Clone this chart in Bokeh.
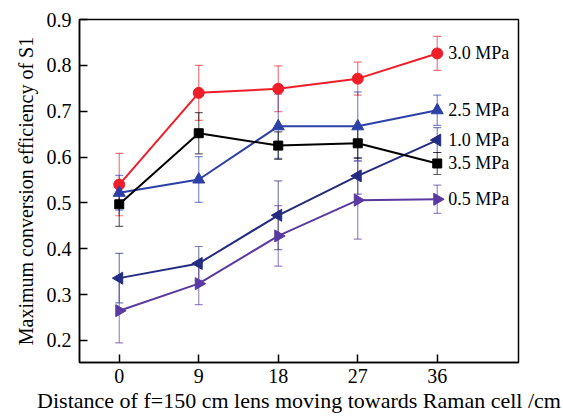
from bokeh.plotting import figure
from bokeh.models import ColumnDataSource, FixedTicker
from bokeh.embed import file_html
from bokeh.resources import INLINE
from bokeh.core.properties import value

distance = [0, 9, 18, 27, 36]

labels = ["3.0 MPa", "2.5 MPa", "1.0 MPa", "3.5 MPa", "0.5 MPa"]
eff_30 = [0.540, 0.740, 0.749, 0.771, 0.826]
err_30 = [0.068, 0.060, 0.050, 0.036, 0.037]
eff_25 = [0.522, 0.551, 0.667, 0.667, 0.702]
err_25 = [0.038, 0.050, 0.070, 0.075, 0.033]
eff_10 = [0.336, 0.368, 0.473, 0.559, 0.637]
err_10 = [0.054, 0.037, 0.075, 0.040, 0.027]
eff_35 = [0.497, 0.652, 0.625, 0.630, 0.586]
err_35 = [0.048, 0.045, 0.030, 0.033, 0.024]
eff_05 = [0.265, 0.324, 0.428, 0.506, 0.508]
err_05 = [0.070, 0.046, 0.066, 0.085, 0.031]

y_ticks = [0.2, 0.3, 0.4, 0.5, 0.6, 0.7, 0.8, 0.9]

series = [
    (labels[0], eff_30, err_30, "#f01e28", "circle", 11),
    (labels[1], eff_25, err_25, "#2c40a8", "triangle", 12),
    (labels[2], eff_10, err_10, "#232c80", "triangle", 12),
    (labels[3], eff_35, err_35, "#000000", "square", 9),
    (labels[4], eff_05, err_05, "#5a3aa0", "triangle", 12),
]
angles = [0, 0, 1.5708, 0, -1.5708]

FONT = "Liberation Serif"

p = figure(width=563, height=417, output_backend="svg", toolbar_location=None,
           x_range=(-4.5, 45.2), y_range=(0.152, 0.9),
           min_border_left=79, min_border_right=45, min_border_top=19, min_border_bottom=55)
p.grid.visible = False
p.outline_line_color = "black"
p.outline_line_width = 1.5
p.background_fill_color = "white"
p.border_fill_color = "white"

for i, (name, ys, es, col, mk, sz) in enumerate(series):
    src = ColumnDataSource(dict(x=distance,
                                lo=[a - b for a, b in zip(ys, es)],
                                hi=[a + b for a, b in zip(ys, es)]))
    p.segment(x0="x", y0="lo", x1="x", y1="hi", source=src,
              line_color=col, line_alpha=0.6, line_width=1.2)
    p.scatter("x", "lo", source=src, marker="dash", size=8,
              line_color=col, line_alpha=0.6, line_width=1.2)
    p.scatter("x", "hi", source=src, marker="dash", size=8,
              line_color=col, line_alpha=0.6, line_width=1.2)
for i, (name, ys, es, col, mk, sz) in enumerate(series):
    src = ColumnDataSource(dict(x=distance, y=ys))
    p.line("x", "y", source=src, line_color=col, line_width=2)
    p.scatter("x", "y", source=src, marker=mk, size=sz, color=col, angle=angles[i])
    p.text(x=[distance[-1]], y=[ys[-1]], text=[name], x_offset=11,
           text_baseline="middle", text_align="left",
           text_font=value(FONT), text_font_size="18px", text_color="black")

xa = p.xaxis[0]
ya = p.yaxis[0]
xa.ticker = FixedTicker(ticks=distance)
ya.ticker = FixedTicker(ticks=y_ticks)

xa.major_tick_in = 8
xa.major_tick_out = 0
xa.minor_tick_in = 0
xa.minor_tick_out = 0
xa.axis_line_width = 1.5
xa.major_tick_line_width = 1.5
xa.major_label_text_font = FONT
xa.major_label_text_font_size = "20px"
xa.major_label_text_color = "black"
xa.axis_label = "Distance of f=150 cm lens moving towards Raman cell /cm"
xa.axis_label_text_font = FONT
xa.axis_label_text_font_style = "normal"
xa.axis_label_text_color = "black"
xa.axis_label_text_font_size = "22px"
xa.axis_label_standoff = 2
xa.major_label_standoff = 6

ya.major_tick_in = 8
ya.major_tick_out = 0
ya.minor_tick_in = 0
ya.minor_tick_out = 0
ya.axis_line_width = 1.5
ya.major_tick_line_width = 1.5
ya.major_label_text_font = FONT
ya.major_label_text_font_size = "20px"
ya.major_label_text_color = "black"
ya.axis_label = "Maximum conversion efficiency of S1"
ya.axis_label_text_font = FONT
ya.axis_label_text_font_style = "normal"
ya.axis_label_text_color = "black"
ya.axis_label_text_font_size = "20px"
ya.axis_label_standoff = 7
ya.major_label_standoff = 8

open("out.html", "w").write(file_html(p, INLINE))
